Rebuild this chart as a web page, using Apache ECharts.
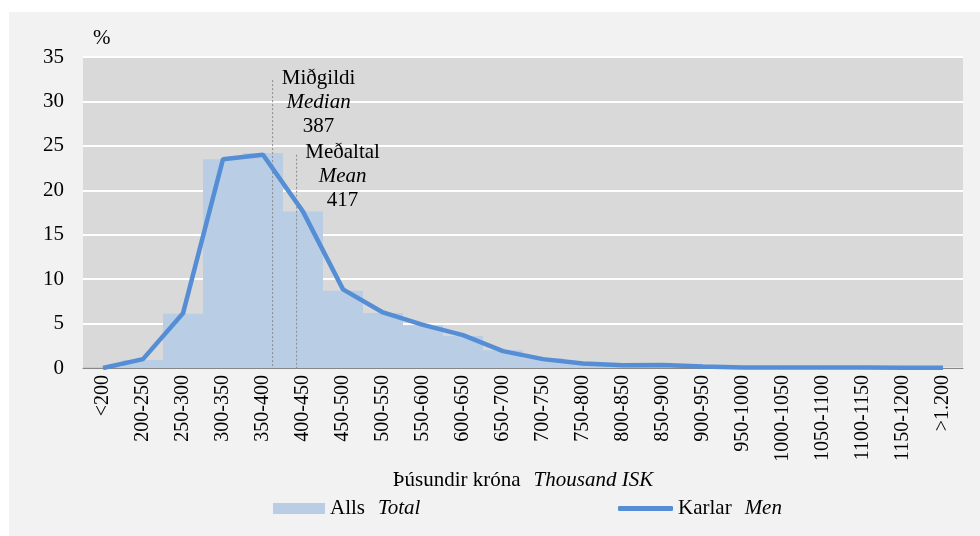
<!DOCTYPE html>
<html>
<head>
<meta charset="utf-8">
<script src="https://cdn.jsdelivr.net/npm/echarts@6/dist/echarts.min.js"></script>
<style>
  html, body { margin: 0; padding: 0; background: #fff; }
  #chart { position: absolute; left: 9px; top: 12px; width: 971px; height: 524px; background: #f2f2f2; }
</style>
</head>
<body>
<div id="chart"></div>
<script>
// Launadreifing, hlutfall (%) eftir bilum í þúsundum króna
const categories = ['<200', '200-250', '250-300', '300-350', '350-400', '400-450', '450-500',
  '500-550', '550-600', '600-650', '650-700', '700-750', '750-800', '800-850', '850-900',
  '900-950', '950-1000', '1000-1050', '1050-1100', '1100-1150', '1150-1200', '>1.200']
const totalShare = [0.1, 0.9, 6.1, 23.5, 24.2, 17.6, 8.7, 6.2, 4.8, 3.6, 2.0, 1.1, 0.6, 0.4,
  0.4, 0.2, 0.1, 0.05, 0.05, 0.05, 0.05, 0.05]
const menShare = [0, 1.0, 6.15, 23.5, 24.0, 17.6, 8.85, 6.25, 4.85, 3.7, 1.9, 1.0, 0.5, 0.32,
  0.35, 0.17, 0.07, 0.05, 0.05, 0.05, 0.04, 0.03]
// [gildi, efri endi línu (%), heiti, enskt heiti]
const markers = [
  [387, 32.4, 'Miðgildi', 'Median'],
  [417, 24.0, 'Meðaltal', 'Mean']
]
const yTicks = { min: 0, max: 35, interval: 5 }

const serif = "'Liberation Serif', 'Times New Roman', serif"
const barColor = '#b9cde5'
const lineColor = '#558ed5'
const fs = 21

const chart = echarts.init(document.getElementById('chart'))

function markerItem(params, api) {
  const bottom = api.coord([api.value(0), 0])
  const top = api.coord([api.value(0), api.value(1)])
  const name = markers[params.dataIndex]
  return {
    type: 'group',
    children: [
      {
        type: 'line',
        shape: { x1: top[0], y1: top[1], x2: bottom[0], y2: bottom[1] },
        style: { stroke: '#8c8c8c', lineWidth: 1, lineDash: [2, 2] }
      },
      {
        type: 'text',
        x: top[0] + 46,
        y: top[1] - 14,
        style: {
          text: `{a|${name[2]}}\n{b|${name[3]}}\n{a|${name[0]}}`,
          align: 'center',
          verticalAlign: 'top',
          rich: {
            a: { fontFamily: serif, fontSize: fs, lineHeight: 24, fill: '#000' },
            b: { fontFamily: serif, fontSize: fs, lineHeight: 24, fontStyle: 'italic', fill: '#000' }
          }
        }
      }
    ]
  }
}

const legendRich = {
  a: { fontFamily: serif, fontSize: fs, color: '#000' },
  b: { fontFamily: serif, fontSize: fs, color: '#000', fontStyle: 'italic', padding: [0, 0, 0, 13] }
}

chart.setOption({
  animation: false,
  title: {
    text: '%',
    left: 84,
    top: 16,
    padding: 0,
    textStyle: { fontFamily: serif, fontSize: fs, fontWeight: 'normal', color: '#000' }
  },
  grid: { left: 74, right: 17, top: 45, bottom: 168, show: true, backgroundColor: '#d9d9d9', borderWidth: 0 },
  legend: [
    {
      data: [{ name: 'Alls', icon: 'rect' }],
      left: 264,
      top: 486,
      padding: 0,
      itemWidth: 52,
      itemHeight: 11,
      itemGap: 5,
      formatter: () => '{a|Alls}{b|Total}',
      textStyle: { rich: legendRich }
    },
    {
      data: [{ name: 'Karlar', icon: 'roundRect' }],
      left: 609,
      top: 486,
      padding: 0,
      itemWidth: 55,
      itemHeight: 5,
      itemGap: 5,
      formatter: () => '{a|Karlar}{b|Men}',
      textStyle: { rich: legendRich }
    }
  ],
  xAxis: [
    {
      type: 'category',
      data: categories,
      axisLine: { lineStyle: { color: '#868686', width: 1 } },
      axisTick: { show: false },
      axisLabel: { rotate: 90, interval: 0, margin: 7, fontFamily: serif, fontSize: 20, color: '#000' },
      name: '{a|Þúsundir króna}{b|Thousand ISK}',
      nameLocation: 'middle',
      nameGap: 101,
      nameTextStyle: { rich: legendRich }
    },
    {
      type: 'value',
      min: 150,
      max: 1250,
      show: false
    }
  ],
  yAxis: {
    type: 'value',
    min: yTicks.min,
    max: yTicks.max,
    interval: yTicks.interval,
    axisLine: { show: false },
    axisTick: { show: false },
    axisLabel: { margin: 19, fontFamily: serif, fontSize: fs, color: '#000' },
    splitLine: { lineStyle: { color: '#ffffff', width: 2 } }
  },
  series: [
    {
      name: 'Alls',
      type: 'bar',
      data: totalShare,
      barCategoryGap: '0%',
      itemStyle: { color: barColor },
      z: 2
    },
    {
      name: 'Karlar',
      type: 'line',
      data: menShare,
      symbol: 'none',
      lineStyle: { color: lineColor, width: 4.5 },
      itemStyle: { color: lineColor },
      z: 4
    },
    {
      name: 'markers',
      type: 'custom',
      xAxisIndex: 1,
      data: markers.map((m) => [m[0], m[1]]),
      renderItem: markerItem,
      silent: true,
      z: 3
    }
  ]
})
</script>
</body>
</html>
